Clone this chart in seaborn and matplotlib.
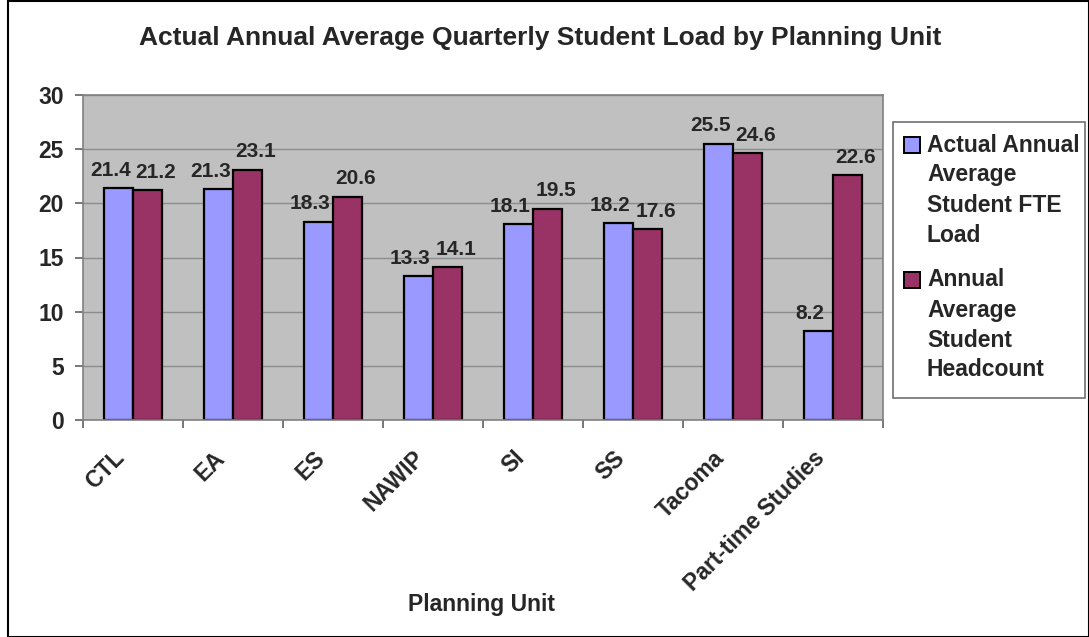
import matplotlib
matplotlib.use("Agg")
import matplotlib.pyplot as plt
from matplotlib.patches import Rectangle
import seaborn as sns
import pandas as pd

# chart data
units = ["CTL", "EA", "ES", "NAWIP", "SI", "SS", "Tacoma", "Part-time Studies"]
fte_load = [21.4, 21.3, 18.3, 13.3, 18.1, 18.2, 25.5, 8.2]
headcount = [21.2, 23.1, 20.6, 14.1, 19.5, 17.6, 24.6, 22.6]
series_names = ["Actual Annual\nAverage\nStudent FTE\nLoad",
                "Annual\nAverage\nStudent\nHeadcount"]
colors = ["#9999FF", "#993366"]

df = pd.DataFrame({
    "unit": units * 2,
    "value": fte_load + headcount,
    "series": [series_names[0]] * len(units) + [series_names[1]] * len(units),
})

sns.set_style("white")
plt.rcParams['font.family'] = ['Liberation Sans', 'DejaVu Sans']
plt.rcParams['font.weight'] = 'bold'

W, H = 1089, 637
fig = plt.figure(figsize=(W / 100, H / 100), dpi=100)
ax = fig.add_axes([83 / W, 1 - 420 / H, 800 / W, 325 / H])
ax.set_facecolor("#C0C0C0")

sns.barplot(data=df, x="unit", y="value", hue="series", palette=colors,
            width=0.58, gap=0, edgecolor="black", linewidth=1.6,
            saturation=1, ax=ax, legend=False)

# value labels, nudged apart like the original so neighbours don't collide
for cont, dx in zip(ax.containers, [-6, 6]):
    labels = ax.bar_label(cont, fmt="%.1f", fontsize=15, fontweight="bold", padding=6)
    for t in labels:
        t.xyann = (dx, t.xyann[1])

ax.set_ylim(0, 30)
ax.set_xlim(-0.5, len(units) - 0.5)
ax.set_yticks(range(0, 31, 5))
ax.yaxis.grid(True, color="#8c8c8c", linewidth=1)
ax.set_axisbelow(True)
for s in ax.spines.values():
    s.set_color("#808080")
    s.set_linewidth(1.2)

# tick marks between categories, labels a little left of centre
ax.set_xticks([i + 0.5 for i in range(-1, len(units))], minor=False)
ax.set_xticklabels([])
ax.set_xticks([i - 0.2 for i in range(len(units))], minor=True)
ax.set_xticklabels(units, minor=True, rotation=45, ha="right",
                   rotation_mode="anchor", fontsize=16.5, fontweight="bold")
ax.tick_params(axis="x", which="major", length=6, width=1.2, color="#606060", direction="out", bottom=True)
ax.tick_params(axis="x", which="minor", length=0, pad=19)
ax.tick_params(axis="y", length=6, width=1.2, color="#606060", direction="out", left=True,
               labelsize=16.5, pad=8)
for t in ax.get_yticklabels():
    t.set_fontweight("bold")
ax.set_xlabel("")
ax.set_ylabel("")

# legend box drawn by hand so the swatch sits on the first text line
fig.patches.append(Rectangle((893 / W, 1 - 398 / H), 192 / W, 276 / H,
                             transform=fig.transFigure, fill=False,
                             edgecolor="#707070", linewidth=1.2))
for k, (name, col) in enumerate(zip(series_names, colors)):
    y0 = 145 + k * 135
    fig.patches.append(Rectangle((904 / W, 1 - (y0 + 8) / H), 16 / W, 16 / H,
                                 transform=fig.transFigure, facecolor=col,
                                 edgecolor="black", linewidth=1.4))
    for j, line in enumerate(name.split("\n")):
        fig.text(927 / W, 1 - (y0 + 30 * j) / H, line, ha="left", va="center",
                 fontsize=16.5, fontweight="bold")

fig.text(540 / W, 1 - 38 / H, "Actual Annual Average Quarterly Student Load by Planning Unit",
         ha="center", va="center", fontsize=19, fontweight="bold")
fig.text(481 / W, 1 - 605 / H, "Planning Unit", ha="center", va="center",
         fontsize=16.5, fontweight="bold")

fig.patches.append(Rectangle((0.007, 0.0), 0.993, 0.999, transform=fig.transFigure,
                             fill=False, edgecolor="black", linewidth=1.5))

fig.savefig("out.png", dpi=100)
